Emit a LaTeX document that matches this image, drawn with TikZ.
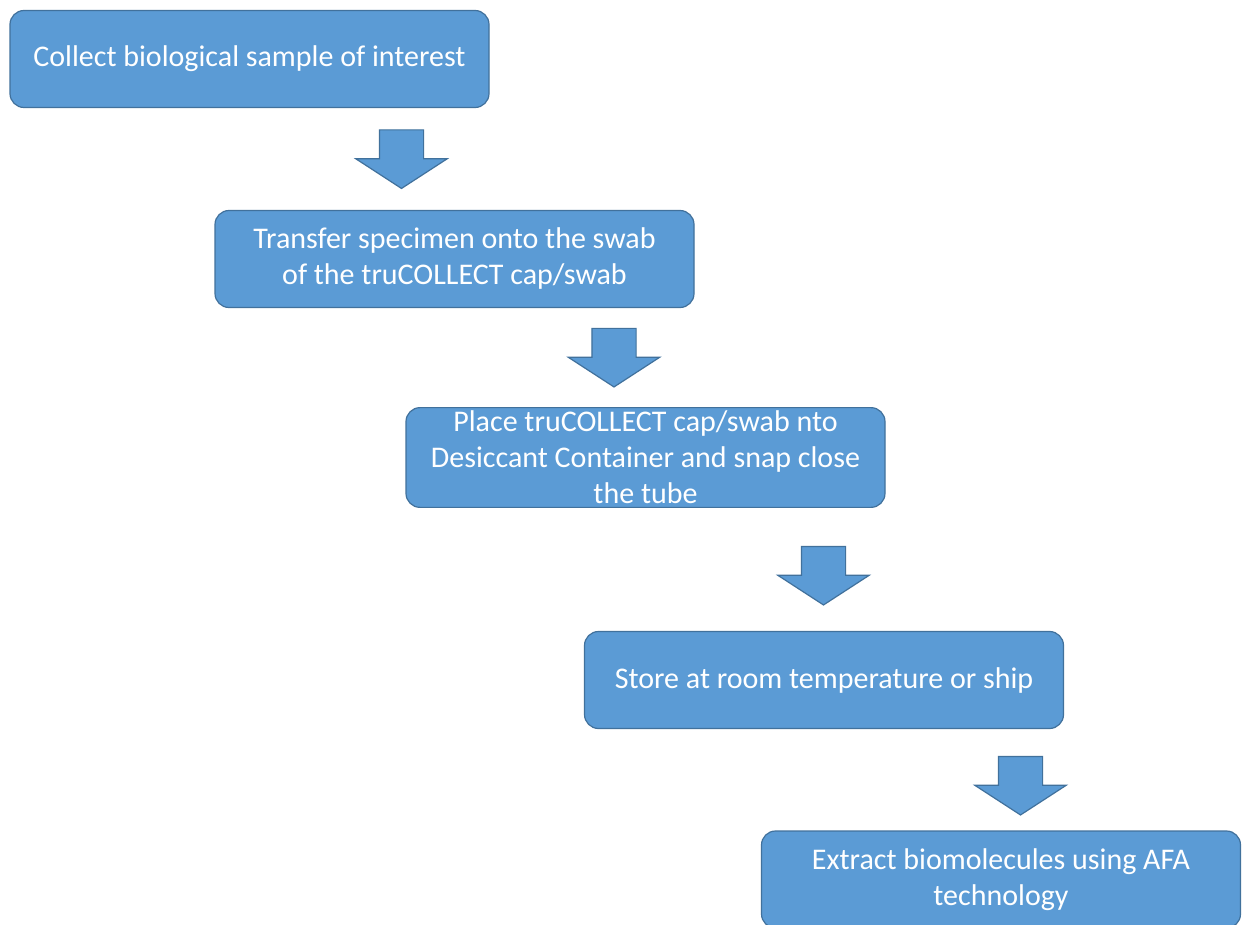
\documentclass[tikz,border=0pt]{standalone}
\usepackage{fontspec}
\setmainfont{Carlito}
\usetikzlibrary{positioning,shapes.arrows}
\definecolor{stepfill}{HTML}{5B9BD5}
\definecolor{stepline}{HTML}{41719C}
\tikzstyle{stepbox} = [draw=stepline, fill=stepfill, rounded corners=14pt, line width=1.2pt, minimum width=479pt, minimum height=97pt, text=white, align=center, font=\fontsize{30}{36}\selectfont]
\tikzstyle{down} = [draw=stepline, fill=stepfill, line width=1.2pt, single arrow, shape border rotate=270, minimum height=57pt, single arrow head extend=23.5pt, single arrow tip angle=114, inner sep=21.5pt]
\begin{document}
\begin{tikzpicture}[x=1pt,y=-1pt]
	\useasboundingbox[fill=white] (0,0) rectangle (1245,925);
	%
	\node (collect) [stepbox] at (249.5,59) {Collect biological sample of interest};
	\node (a1) [down] at (401.5,152) {};
	%
	\node (transfer) [stepbox] at (454.5,259) {Transfer specimen onto the swab\\of the truCOLLECT cap/swab};
	\node (a2) [down] at (614,350.5) {};
	%
	\node (place) [stepbox] at (645.5,457.5) {Place truCOLLECT cap/swab nto\\Desiccant Container and snap close\\the tube};
	\node (a3) [down] at (823.5,568.5) {};
	%
	\node (store) [stepbox] at (824,680) {Store at room temperature or ship};
	\node (a4) [down] at (1020.5,778.5) {};
	%
	\node (extract) [stepbox] at (1001,879.5) {Extract biomolecules using AFA\\technology};
\end{tikzpicture}
\end{document}
